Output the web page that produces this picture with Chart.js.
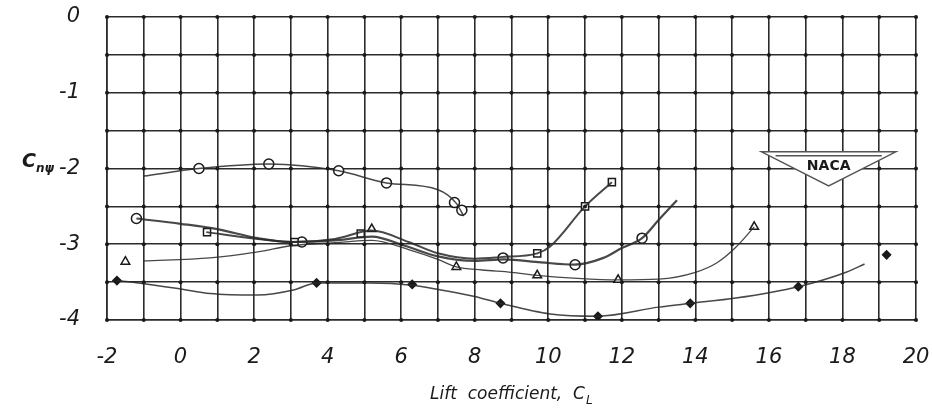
<!DOCTYPE html>
<html>
<head>
<meta charset="utf-8">
<script src="https://cdn.jsdelivr.net/npm/chart.js@4/dist/chart.umd.min.js"></script>
<style>
  html, body { margin: 0; padding: 0; background: #fff; }
  #wrap { width: 932px; height: 415px; position: relative; }
</style>
</head>
<body>
<div id="wrap"><canvas id="c"></canvas></div>
<script>
// readings of the faired curves (lift coefficient, Cn psi)
const curveCircleX = [-1.0, 0.5, 2.4, 4.3, 5.6, 7.0, 7.5, 7.7];
const curveCircleY = [-2.10, -2.00, -1.94, -2.03, -2.19, -2.28, -2.46, -2.63];

const curveSquareX = [0.7, 2.1, 3.1, 4.2, 5.2, 6.2, 7.0, 8.0, 8.7, 9.7, 10.05, 11.0, 11.73];
const curveSquareY = [-2.84, -2.93, -2.97, -2.93, -2.82, -2.97, -3.12, -3.19, -3.17, -3.12, -3.03, -2.50, -2.18];

const curveCrossX = [-1.2, 0.0, 1.0, 2.1, 3.0, 4.2, 5.2, 6.1, 7.0, 8.0, 8.8, 9.8, 10.7, 11.5, 12.0, 12.55, 13.0, 13.5];
const curveCrossY = [-2.66, -2.73, -2.80, -2.92, -2.97, -2.95, -2.90, -3.02, -3.16, -3.22, -3.20, -3.24, -3.27, -3.18, -3.05, -2.92, -2.68, -2.42];

const curveTriX = [-1.0, 0.8, 2.1, 3.0, 4.2, 5.2, 6.2, 7.0, 7.5, 8.2, 9.0, 9.7, 10.8, 11.9, 13.0, 14.0, 14.6, 15.1, 15.6];
const curveTriY = [-3.22, -3.18, -3.10, -3.02, -2.98, -2.95, -3.07, -3.20, -3.30, -3.34, -3.37, -3.41, -3.45, -3.47, -3.46, -3.37, -3.24, -3.04, -2.77];

const curveDiaX = [-1.73, -1.0, 0.0, 0.8, 2.1, 3.1, 3.7, 5.15, 6.3, 7.05, 8.0, 8.7, 10.05, 11.35, 13.0, 13.86, 15.1, 16.8, 18.1, 18.6];
const curveDiaY = [-3.48, -3.52, -3.59, -3.65, -3.67, -3.60, -3.51, -3.51, -3.54, -3.60, -3.69, -3.78, -3.92, -3.95, -3.83, -3.78, -3.71, -3.56, -3.37, -3.26];

// test points
const ptCircleX = [0.5, 2.4, 4.3, 5.6, 7.45, 7.65];
const ptCircleY = [-2.00, -1.94, -2.03, -2.19, -2.45, -2.55];
const ptSquareX = [0.72, 3.1, 4.9, 9.7, 11.0, 11.73];
const ptSquareY = [-2.84, -2.97, -2.86, -3.12, -2.50, -2.18];
const ptCrossX = [-1.2, 3.3, 8.77, 10.73, 12.55];
const ptCrossY = [-2.66, -2.97, -3.18, -3.27, -2.92];
const ptTriX = [-1.5, 5.2, 7.5, 9.7, 11.9, 15.6];
const ptTriY = [-3.23, -2.80, -3.30, -3.41, -3.47, -2.77];
const ptDiaX = [-1.73, 3.7, 6.3, 8.7, 11.35, 13.86, 16.8, 19.2];
const ptDiaY = [-3.48, -3.51, -3.53, -3.78, -3.95, -3.78, -3.56, -3.14];

const xTickValues = [-2, 0, 2, 4, 6, 8, 10, 12, 14, 16, 18, 20];
const xTickLabels = ['-2', '0', '2', '4', '6', '8', '10', '12', '14', '16', '18', '20'];
const yTickValues = [0, -1, -2, -3, -4];
const yTickLabels = ['0', '-1', '-2', '-3', '-4'];

const pairs = (xs, ys) => xs.map((x, i) => ({ x: x, y: ys[i] }));

const INK = '#1a1a1a';
const FONT = "'DejaVu Sans', sans-serif";

function curve(xs, ys, w) {
    return {
        data: pairs(xs, ys),
        showLine: true,
        borderColor: 'rgba(40,40,40,0.85)',
        borderWidth: w,
        pointRadius: 0,
        tension: 0.35,
        cubicInterpolationMode: 'monotone',
        fill: false
    };
}

function marks(xs, ys, style, filled, r) {
    return {
        data: pairs(xs, ys),
        showLine: false,
        pointStyle: style,
        pointRadius: r,
        pointBackgroundColor: filled ? INK : '#fff',
        pointBorderColor: INK,
        pointBorderWidth: 1.5
    };
}

// grid dots, tick labels, axis titles and the NACA badge
const paperPlugin = {
    id: 'paper',
    afterDraw(chart) {
        const ctx = chart.ctx;
        const xs = chart.scales.x, ys = chart.scales.y;
        const area = chart.chartArea;
        ctx.save();
        ctx.fillStyle = INK;
        for (let gx = -2; gx <= 20; gx++) {
            for (let gy = 0; gy >= -4; gy -= 0.5) {
                ctx.beginPath();
                ctx.arc(xs.getPixelForValue(gx), ys.getPixelForValue(gy), 2, 0, Math.PI * 2);
                ctx.fill();
            }
        }

        // tick labels
        ctx.font = "italic 21px " + FONT;
        ctx.textBaseline = 'middle';
        ctx.textAlign = 'center';
        xTickValues.forEach((v, i) => {
            ctx.fillText(xTickLabels[i], xs.getPixelForValue(v), area.bottom + 38);
        });
        ctx.textAlign = 'right';
        yTickValues.forEach((v, i) => {
            ctx.fillText(yTickLabels[i], area.left - 27, ys.getPixelForValue(v));
        });

        // axis titles
        ctx.font = "italic 17px " + FONT;
        ctx.textAlign = 'left';
        const title = 'Lift  coefficient,  C';
        const tw = ctx.measureText(title).width;
        const tx = (area.left + area.right) / 2 - tw / 2 - 4;
        ctx.fillText(title, tx, 395);
        ctx.font = "italic 12px " + FONT;
        ctx.fillText('L', tx + tw + 1, 401);

        ctx.font = "italic bold 19px " + FONT;
        ctx.fillText('C', 22, ys.getPixelForValue(-2) - 6);
        ctx.font = "italic bold 12px " + FONT;
        ctx.fillText('nψ', 36, ys.getPixelForValue(-2));

        // NACA badge
        const l = xs.getPixelForValue(15.8), r = xs.getPixelForValue(19.45);
        const t = ys.getPixelForValue(-1.78), b = ys.getPixelForValue(-2.23);
        const cx = (l + r) / 2;
        ctx.fillStyle = '#fff';
        ctx.beginPath();
        ctx.moveTo(l, t); ctx.lineTo(r, t); ctx.lineTo(cx, b); ctx.closePath();
        ctx.fill();
        ctx.strokeStyle = '#555';
        ctx.lineWidth = 1.5;
        ctx.stroke();
        ctx.beginPath();
        ctx.moveTo(l + 14, t + 4); ctx.lineTo(r - 14, t + 4);
        ctx.stroke();
        ctx.fillStyle = INK;
        ctx.font = "bold 14px " + FONT;
        ctx.textAlign = 'center';
        ctx.fillText('NACA', cx, t + 15);
        ctx.restore();
    }
};

new Chart(document.getElementById('c'), {
    type: 'scatter',
    data: {
        datasets: [
            curve(curveCircleX, curveCircleY, 1.5),
            curve(curveSquareX, curveSquareY, 2.0),
            curve(curveCrossX, curveCrossY, 2.2),
            curve(curveTriX, curveTriY, 1.3),
            curve(curveDiaX, curveDiaY, 1.5),
            marks(ptCircleX, ptCircleY, 'circle', false, 5),
            marks(ptSquareX, ptSquareY, 'rect', false, 5),
            marks(ptCrossX, ptCrossY, 'circle', false, 5),
            marks(ptTriX, ptTriY, 'triangle', false, 5),
            marks(ptDiaX, ptDiaY, 'rectRot', true, 4)
        ]
    },
    options: {
        responsive: true,
        maintainAspectRatio: false,
        animation: false,
        layout: { padding: { top: 17, right: 16, left: 0, bottom: 0 } },
        plugins: { legend: { display: false }, tooltip: { enabled: false } },
        scales: {
            x: {
                type: 'linear',
                min: -2,
                max: 20,
                afterFit: (s) => { s.height = 95; },
                afterBuildTicks: (s) => {
                    s.ticks = [];
                    for (let v = -2; v <= 20; v++) s.ticks.push({ value: v });
                },
                grid: { color: '#2b2b2b', lineWidth: 1.6, drawTicks: false },
                border: { color: '#2b2b2b', width: 1.6 },
                ticks: { display: false }
            },
            y: {
                type: 'linear',
                min: -4,
                max: 0,
                afterFit: (s) => { s.width = 107; },
                afterBuildTicks: (s) => {
                    s.ticks = [];
                    for (let v = -4; v <= 0; v += 0.5) s.ticks.push({ value: v });
                },
                grid: { color: '#2b2b2b', lineWidth: 1.6, drawTicks: false },
                border: { color: '#2b2b2b', width: 1.6 },
                ticks: { display: false }
            }
        }
    },
    plugins: [paperPlugin]
});
</script>
</body>
</html>
